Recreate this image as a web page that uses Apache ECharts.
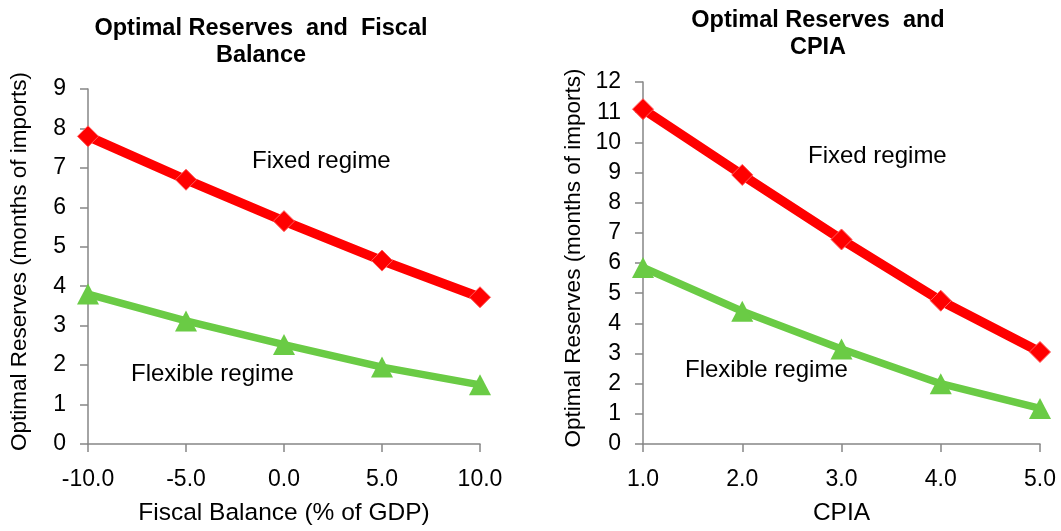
<!DOCTYPE html>
<html>
<head>
<meta charset="utf-8">
<script src="https://cdn.jsdelivr.net/npm/echarts@6/dist/echarts.min.js"></script>
<style>
  html, body { margin: 0; padding: 0; background: #fff; }
  #chart { width: 1061px; height: 531px; }
</style>
</head>
<body>
<div id="chart"></div>
<script>
// Fiscal balance panel (x in % of GDP)
const fiscalX = [-10, -5, 0, 5, 10];
const fiscalFixed = [7.8, 6.7, 5.65, 4.65, 3.72];
const fiscalFlexible = [3.8, 3.12, 2.52, 1.95, 1.5];

// CPIA panel
const cpiaX = [1, 2, 3, 4, 5];
const cpiaFixed = [11.1, 8.92, 6.78, 4.75, 3.05];
const cpiaFlexible = [5.85, 4.4, 3.15, 2.0, 1.18];

const titles = ['Optimal Reserves  and  Fiscal\nBalance', 'Optimal Reserves  and\nCPIA'];
const xNames = ['Fiscal Balance (% of GDP)', 'CPIA'];
const yName = 'Optimal Reserves (months of imports)';
const fixedLabel = 'Fixed regime';
const flexibleLabel = 'Flexible regime';

const FONT = '"Liberation Sans", Arial, sans-serif';
const RED = '#ff0000';
const GREEN = '#6acb45';
const AXIS = '#868686';

const pairs = (xs, ys) => xs.map((x, i) => [x, ys[i]]);

function xAxisCfg(idx, min, max, interval) {
  return {
    gridIndex: idx, type: 'value', min, max, interval,
    name: xNames[idx], nameLocation: 'middle', nameGap: 57,
    nameTextStyle: { fontFamily: FONT, fontSize: 24.5, color: '#000' },
    axisLine: { show: true, onZero: false, lineStyle: { color: AXIS, width: 1.5 } },
    axisTick: { show: true, length: 8, inside: false, lineStyle: { color: AXIS, width: 1.5 } },
    splitLine: { show: false },
    axisLabel: { fontFamily: FONT, fontSize: 23, color: '#000', margin: 24,
                 formatter: v => v.toFixed(1) }
  };
}

function yAxisCfg(idx, max, margin, gap) {
  return {
    gridIndex: idx, type: 'value', min: 0, max, interval: 1,
    name: yName, nameLocation: 'middle', nameGap: gap,
    nameTextStyle: { fontFamily: FONT, fontSize: 22.5, color: '#000', padding: [0, 0, 0, 10] },
    axisLine: { show: true, onZero: false, lineStyle: { color: AXIS, width: 1.5 } },
    axisTick: { show: true, length: 8, inside: false, lineStyle: { color: AXIS, width: 1.5 } },
    splitLine: { show: false },
    axisLabel: { fontFamily: FONT, fontSize: 23, color: '#000', margin }
  };
}

function fixedSeries(idx, data) {
  return {
    type: 'line', xAxisIndex: idx, yAxisIndex: idx, data,
    symbol: 'diamond', symbolSize: 21,
    lineStyle: { color: RED, width: 9.5 },
    itemStyle: { color: RED, borderColor: '#ff5a5a', borderWidth: 1 },
    z: 3, animation: false
  };
}

function flexibleSeries(idx, data) {
  return {
    type: 'line', xAxisIndex: idx, yAxisIndex: idx, data,
    symbol: 'triangle', symbolSize: [22, 21],
    lineStyle: { color: GREEN, width: 7.5 },
    itemStyle: { color: GREEN },
    z: 2, animation: false
  };
}

function note(text, x, y) {
  return { type: 'text', left: x, top: y,
           style: { text, font: '24px ' + FONT, fill: '#000' } };
}

const chart = echarts.init(document.getElementById('chart'), null, { renderer: 'canvas' });
chart.setOption({
  backgroundColor: '#fff',
  animation: false,
  title: [
    { text: titles[0], left: 256, top: 10, textAlign: 'center',
      textStyle: { fontFamily: FONT, fontSize: 23.5, fontWeight: 'bold', color: '#000', lineHeight: 27 } },
    { text: titles[1], left: 813, top: 2, textAlign: 'center',
      textStyle: { fontFamily: FONT, fontSize: 23.5, fontWeight: 'bold', color: '#000', lineHeight: 27 } }
  ],
  grid: [
    { left: 88, top: 89, width: 392, height: 356 },
    { left: 643, top: 82, width: 397, height: 363 }
  ],
  xAxis: [xAxisCfg(0, -10, 10, 5), xAxisCfg(1, 1, 5, 1)],
  yAxis: [yAxisCfg(0, 9, 22, 57), yAxisCfg(1, 12, 22, 58)],
  series: [
    fixedSeries(0, pairs(fiscalX, fiscalFixed)),
    flexibleSeries(0, pairs(fiscalX, fiscalFlexible)),
    fixedSeries(1, pairs(cpiaX, cpiaFixed)),
    flexibleSeries(1, pairs(cpiaX, cpiaFlexible))
  ],
  graphic: [
    note(fixedLabel, 252, 149),
    note(flexibleLabel, 131, 362),
    note(fixedLabel, 808, 144),
    note(flexibleLabel, 685, 358)
  ]
});
</script>
</body>
</html>
